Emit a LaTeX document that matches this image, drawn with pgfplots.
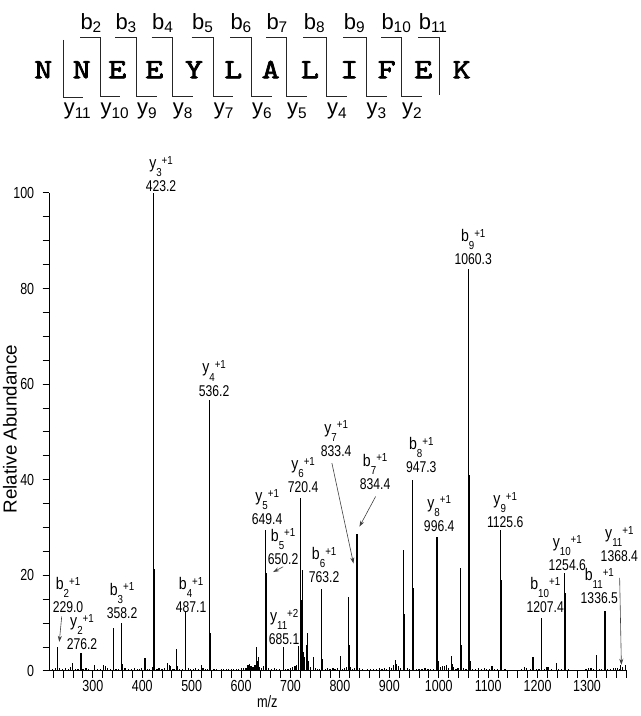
\documentclass[border=0pt]{standalone}
\usepackage{fontspec}
\usepackage{pgfplots}
\pgfplotsset{compat=1.18}
\usetikzlibrary{arrows.meta}

\newfontfamily\chartfont{Liberation Sans}[FakeStretch=0.78]
\newfontfamily\ionfont{Liberation Sans}[FakeStretch=0.84]
\newfontfamily\labfont{Liberation Sans}
\newfontfamily\seqfont{lmmono10-regular.otf}[FakeBold=2.5,FakeStretch=1.22]
% ion label: letter, index, charge, m/z
\newcommand{\ionsub}[1]{\raisebox{-4.1pt}{\fontsize{5.8}{6}\selectfont #1}}
\newcommand{\ionsup}[1]{\raisebox{2.1pt}{\fontsize{5.8}{6}\selectfont #1}}
\newcommand{\ion}[4]{{\ionfont\fontsize{8.4}{11.6}\selectfont #1\ionsub{#2}\ionsup{+#3}}\\#4}

% pixel frame of the reference picture (origin top left)
\tikzset{
  px/.style={x=0.5pt,y=-0.5pt,shift={(-49.36,-671)}},
  lab/.style={anchor=south, inner sep=0pt, align=center,
    font=\chartfont\fontsize{7.8}{11.6}\selectfont},
}

\pgfplotstableread{
mz int
218 0.4
224 0.6
229.0 5.0
232 0.7
238 0.4
244 0.6
250 0.5
255 0.8
259.2 1.6
265 0.5
270 0.4
276.2 3.8
280 0.5
286 0.6
292 0.4
298 0.3
304 1.3
310 0.5
316 0.4
322 1.2
325 1.0
330 0.6
336 0.4
341.5 8.9
342.5 1.8
347 0.5
352 0.4
358.2 10.0
359.2 1.5
365 0.6
372 0.5
378 0.4
385 0.7
390 0.5
395 0.4
399 0.6
405.6 2.7
410 0.5
415 0.4
420 0.8
423.2 100
424.2 21.3
425.2 3
430 0.5
434 0.6
440 0.4
445 0.7
451.5 1.7
455 1.2
457.6 1.0
462 0.4
466 0.5
469.8 4.7
471 1.0
476 0.4
481 0.5
487.1 12.3
488.1 3.3
493 0.6
498 0.4
503.5 0.5
508 0.6
513 0.4
520 1.2
523 0.7
528 0.5
532 0.4
536.2 56.7
537.2 8
538.2 1.2
545 0.4
550 0.5
555 0.3
560 0.4
565 0.5
570 0.4
575 0.5
580 0.4
585 0.5
590 0.4
595 0.5
600 0.6
605 0.7
610 0.6
614 1.2
617 1.5
620 1.0
624 0.8
628 1.2
631.8 5.0
632.8 2.0
634.5 3.0
638 0.8
642 0.6
646 1.0
649.4 29.5
650.2 20.6
651.2 2.5
656 0.7
662 0.5
668 0.6
672 0.5
678 0.4
685.1 5.1
690 0.4
695 0.5
700 0.6
704 0.8
709 1.0
712 1.2
716 5.3
720.4 36.1
722.9 14.9
724.9 21.1
727 4
729 3
731.6 5.5
734.3 7.9
737 2
741 0.8
746.5 2.9
750 0.6
755 0.5
758 0.4
763.2 17.1
764.2 2.5
770 0.5
775 0.6
780 0.5
786 0.7
790 0.4
795 0.6
800.4 3.1
805 0.5
810 0.6
814 0.8
817.4 15.4
818.4 5.4
822 0.8
826 0.5
830 0.6
833.4 22.3
834.4 28.7
835.4 3.5
840 0.6
845 0.4
850 0.3
856 0.5
862 0.4
868 0.5
874 0.4
880 0.6
885 0.5
890 0.7
895 0.5
900 0.9
905 0.7
909 1.2
912.5 2.4
914 1.5
918 1.0
922 0.6
928.6 25.3
929.6 12
931 2.5
936 0.6
941 0.5
947.3 40
948.3 17.3
949.3 3
955 0.4
960 0.5
966 0.4
972 0.6
978 0.5
984 0.4
990 0.5
996.4 28
997.4 15.5
998.4 2
1004 0.8
1008 1.0
1012 1.0
1016 1.2
1020 0.6
1025.2 3.1
1027.5 1.5
1030.5 0.9
1035 0.5
1039 0.6
1043.4 21.5
1044.4 14.2
1045.4 5.4
1050 0.6
1055 0.5
1060.3 84
1061.3 41
1062.3 14.5
1063.3 2
1068 0.4
1074 0.5
1080 0.6
1086 0.5
1092 0.7
1097 0.4
1102 0.5
1107.6 1.0
1113 0.4
1119 0.5
1125.6 29.6
1126.6 19
1127.6 2
1134 0.4
1140 0.3
1150 0.3
1160 0.3
1168 0.4
1173 0.8
1178 0.7
1185 0.5
1190.5 3.0
1191.5 1.2
1197 0.5
1203 0.4
1207.4 11
1208.4 2.5
1214 0.5
1219 0.8
1222 0.8
1228 0.4
1233 0.3
1237.8 1.7
1243 0.4
1248 0.5
1254.6 20.6
1255.6 16.3
1256.6 5.4
1262 0.4
1270 0.3
1280 0.3
1290 0.3
1298 0.5
1303 0.7
1308 0.7
1313 0.5
1318.8 3.3
1319.8 1.5
1325 0.5
1330 0.4
1336.5 12.6
1337.5 7.5
1342 0.5
1348 0.4
1354 0.6
1358 0.7
1362 0.6
1365 0.5
1368.4 1.2
1372 0.8
1378 1.2
}\spectrum

\begin{document}
\begin{tikzpicture}
\begin{axis}[
  at={(0,0)}, anchor=south west,
  scale only axis, width=288.6pt, height=239pt,
  xmin=212, xmax=1380, ymin=0, ymax=100,
  axis lines*=left,
  axis line style={line width=0.5pt},
  xtick={300,400,...,1300}, minor xtick={220,240,...,1380},
  ytick={0,20,...,100}, minor ytick={5,10,...,95},
  tick align=outside, major tick length=3.4pt, minor tick length=3.4pt,
  tick style={black, line width=0.5pt},
  scaled ticks=false,
  /pgf/number format/assume math mode=true,
  /pgf/number format/1000 sep={},
  ticklabel style={font=\chartfont\fontsize{8}{9}\selectfont},
  xticklabel style={inner sep=0pt, yshift=-1pt},
  yticklabel style={inner sep=0pt, xshift=-4pt},
  xlabel={m/z}, ylabel={Relative Abundance},
  xlabel style={at={(rel axis cs:0.3776,-0.0774)}, anchor=base,
    font=\chartfont\fontsize{8.2}{9}\selectfont},
  ylabel style={at={(rel axis cs:-0.0683,0.506)}, anchor=center,
    font=\labfont\fontsize{9.4}{10}\selectfont},
  clip=false,
]
\addplot[ycomb, black, line width=0.6pt, no marks] table[x=mz, y=int] {\spectrum};

\node[lab] at (axis cs:438.0,100.2) {\ion{y}{3}{1}{423.2}};
\node[lab] at (axis cs:545.4,57.4) {\ion{y}{4}{1}{536.2}};
\node[lab] at (axis cs:1069.7,84.9) {\ion{b}{9}{1}{1060.3}};
\node[lab] at (axis cs:725.5,37.2) {\ion{y}{6}{1}{720.4}};
\node[lab] at (axis cs:652.7,30.5) {\ion{y}{5}{1}{649.4}};
\node[lab] at (axis cs:685.1,22.2) {\ion{b}{5}{1}{650.2}};
\node[lab] at (axis cs:498.8,12.1) {\ion{b}{4}{1}{487.1}};
\node[lab] at (axis cs:359.1,10.9) {\ion{b}{3}{1}{358.2}};
\node[lab] at (axis cs:249.7,12.1) {\ion{b}{2}{1}{229.0}};
\node[lab] at (axis cs:278.1,4.4) {\ion{y}{2}{1}{276.2}};
\node[lab] at (axis cs:687.1,5.4) {\ion{y}{11}{2}{685.1}};
\node[lab] at (axis cs:768.1,18.4) {\ion{b}{6}{1}{763.2}};
\node[lab] at (axis cs:792.4,44.8) {\ion{y}{7}{1}{833.4}};
\node[lab] at (axis cs:871.3,37.9) {\ion{b}{7}{1}{834.4}};
\node[lab] at (axis cs:964.5,41.4) {\ion{b}{8}{1}{947.3}};
\node[lab] at (axis cs:1000.9,29.1) {\ion{y}{8}{1}{996.4}};
\node[lab] at (axis cs:1134.5,29.9) {\ion{y}{9}{1}{1125.6}};
\node[lab] at (axis cs:1215.5,12.1) {\ion{b}{10}{1}{1207.4}};
\node[lab] at (axis cs:1260.1,20.9) {\ion{y}{10}{1}{1254.6}};
\node[lab] at (axis cs:1324.9,14.0) {\ion{b}{11}{1}{1336.5}};
\node[lab] at (axis cs:1365.4,22.7) {\ion{y}{11}{1}{1368.4}};

\begin{scope}[-{Stealth[length=3pt,width=2pt]}, line width=0.3pt, black!75]
\draw (axis cs:237.0,11.4) -- (axis cs:232.1,6.1);
\draw (axis cs:685.1,21.8) -- (axis cs:664.8,20.7);
\draw (axis cs:783.7,43.5) -- (axis cs:827.4,22.5);
\draw (axis cs:872.2,36.5) -- (axis cs:839.5,30.2);
\draw (axis cs:1366.0,19.5) -- (axis cs:1369.5,1.3);
\end{scope}
\end{axis}

% peptide sequence with fragment brackets
\begin{scope}[px, line width=0.5pt, black!85]
\foreach \c/\x in {N/43.3, N/81.7, E/117.3, E/154.3, Y/194, L/233.3, A/270.7, L/310, I/349.3, F/386.7, E/423.3, K/461.7}
  \node[anchor=base, inner sep=0pt, black, font=\seqfont\fontsize{14}{15}\selectfont] at (\x,78.3) {\c};
\draw (63.3,40) -- (63.3,98) -- (83.3,98);
\foreach \l/\v/\r in {80/100/120, 115/136.7/156.7, 151.7/172.3/193.3, 191.7/213.3/233.3, 230/251.7/271.7, 266/286.7/306.7, 303.3/326.7/346.7, 343.3/366/386.7, 381/401.7/421.7}
  \draw (\l,37.7) -- (\v,37.7) -- (\v,96.7) -- (\r,96.7);
\draw (418.3,37.7) -- (439.3,37.7) -- (439.3,95);
\foreach \n/\x in {2/80, 3/115, 4/151.7, 5/191.7, 6/230, 7/266, 8/303.3, 9/343.3, 10/381, 11/418.3}
  \node[anchor=base west, inner sep=0pt, black, font=\labfont\fontsize{11}{13}\selectfont] at (\x,29.3) {b\textsubscript{\n}};
\foreach \n/\x in {11/63.3, 10/100, 9/136.7, 8/172.3, 7/213.3, 6/251.7, 5/286.7, 4/326.7, 3/366, 2/401.7}
  \node[anchor=base west, inner sep=0pt, black, font=\labfont\fontsize{11}{13}\selectfont] at (\x,115) {y\textsubscript{\n}};
\end{scope}

\begin{scope}[px]
\pgfresetboundingbox
\path (0,0) rectangle (641,716);
\end{scope}
\end{tikzpicture}
\end{document}
